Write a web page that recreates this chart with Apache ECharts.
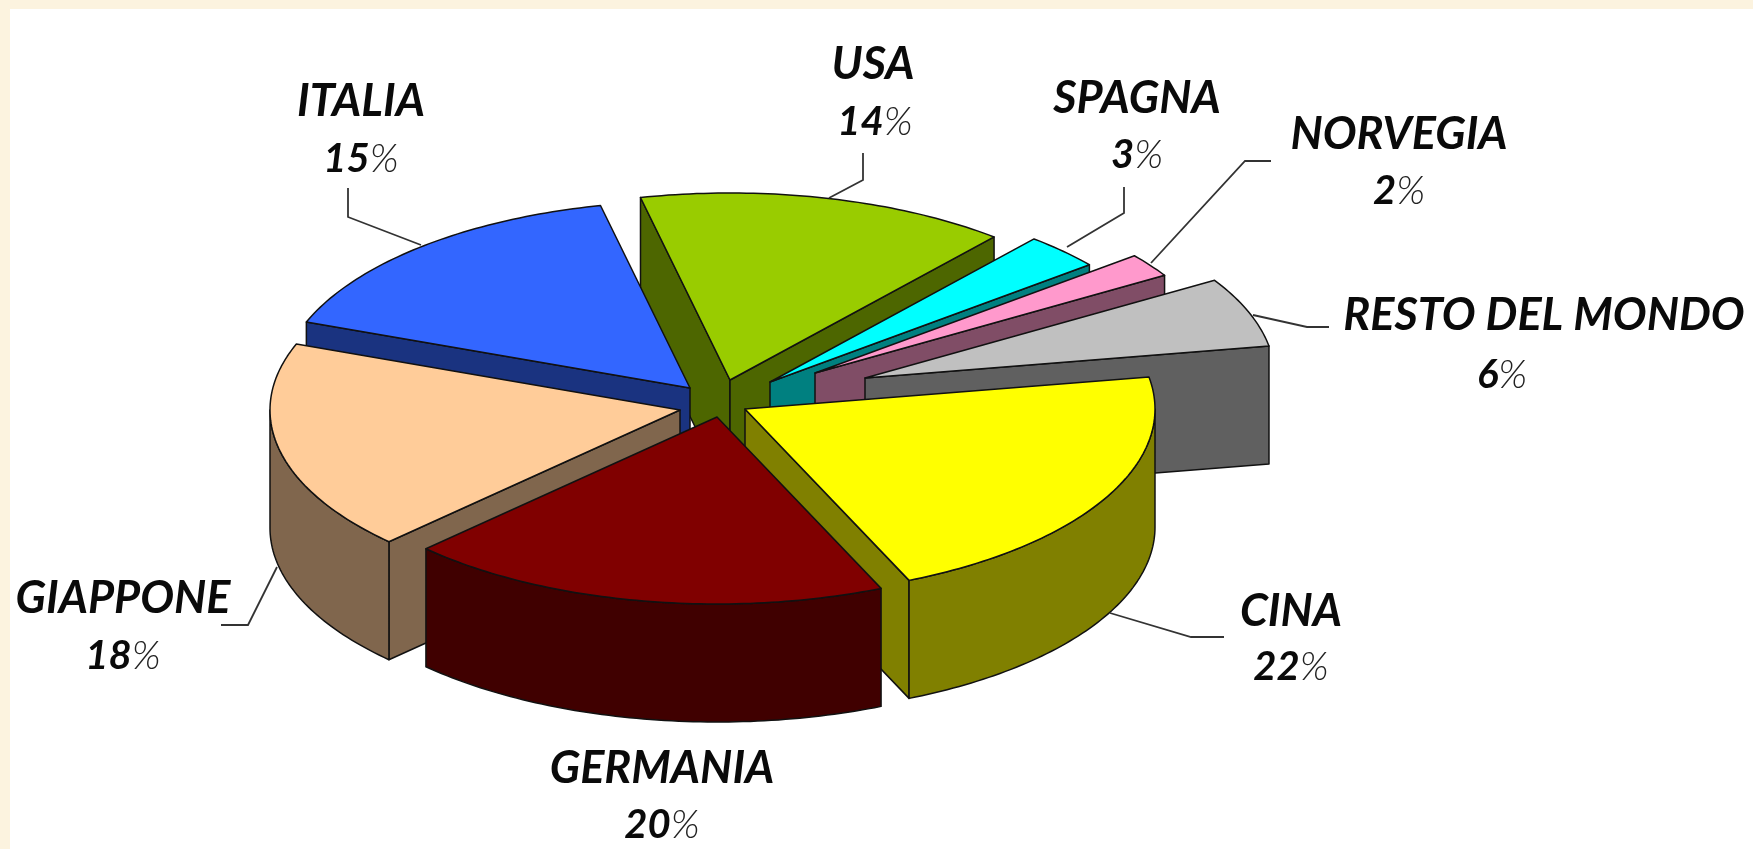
<!DOCTYPE html>
<html>
<head>
<meta charset="utf-8">
<title>Torta</title>
<script src="https://cdn.jsdelivr.net/npm/echarts@6/dist/echarts.min.js"></script>
<style>
html, body { margin: 0; padding: 0; background: #fcf3df; }
#main { width: 1753px; height: 849px; }
</style>
</head>
<body>
<div id="main"></div>
<script>
// dati
var paesi = ['USA', 'SPAGNA', 'NORVEGIA', 'RESTO DEL MONDO', 'CINA', 'GERMANIA', 'GIAPPONE', 'ITALIA'];
var quote = [14, 3, 2, 6, 22, 20, 18, 15];

// stile delle fette
var coloriTop = ['#99cc00', '#00ffff', '#ff99cc', '#c0c0c0', '#ffff00', '#800000', '#ffcc99', '#3366ff'];
var coloriLato = ['#4d6600', '#008080', '#804d66', '#606060', '#808000', '#400000', '#80664d', '#1a3380'];

// spostamento di ogni fetta dal centro (pixel)
var esplosione = [[25, -15], [65, -13], [110, -22], [160, -17], [40, 14], [12, 22], [-25, 15], [-15, -7]];
// ordine di disegno, da dietro verso davanti
var ordine = [0, 1, 2, 3, 4, 7, 6, 5];

// posizione delle etichette: [x, y nome, y percentuale]
var posEtichette = [[873, 64, 122], [1137, 98, 155], [1399, 134, 191], [1544, 315, 375],
    [1291, 611, 667], [662, 768, 825], [123, 598, 656], [361, 101, 159]];
var posRichiamo = [
    [[863, 153], [863, 180], [829, 198]],
    [[1124, 187], [1124, 213], [1067, 247]],
    [[1271, 161], [1245, 161], [1151, 263]],
    [[1329, 327], [1307, 327], [1253, 315]],
    [[1224, 637], [1191, 637], [1110, 613]],
    null,
    [[221, 625], [248, 625], [277, 567]],
    [[348, 188], [348, 217], [421, 245]]
];
var xPercento = [875, 1137, 1399, 1502, 1291, 662, 123, 361];

var centroX = 705, centroY = 395, raggioX = 410, raggioY = 187, spessore = 118;
var angoloIniziale = -103;

// la vista 3D del grafico originale deforma un po' gli angoli
function prospettiva(gradi) {
    return gradi + 3.2 * Math.cos((gradi + 20) * Math.PI / 180);
}

var totale = quote.reduce(function (a, b) { return a + b; }, 0);
var angoliPiatti = [angoloIniziale];
quote.forEach(function (q, i) {
    angoliPiatti.push(angoliPiatti[i] + q / totale * 360);
});
var angoli = angoliPiatti.map(prospettiva);

function puntoBordo(i, gradi, dy) {
    var r = gradi * Math.PI / 180;
    return [
        centroX + esplosione[i][0] + raggioX * Math.cos(r),
        centroY + esplosione[i][1] + raggioY * Math.sin(r) + dy
    ];
}

function arco(i, da, a, dy) {
    var pts = [];
    var n = Math.max(2, Math.ceil(Math.abs(a - da)));
    for (var k = 0; k <= n; k++) {
        pts.push(puntoBordo(i, da + (a - da) * k / n, dy));
    }
    return pts;
}

function faccia(pts, colore) {
    return {
        type: 'polygon',
        shape: { points: pts },
        style: { fill: colore, stroke: '#111111', lineWidth: 1.5, lineJoin: 'round' }
    };
}

function renderFetta(params, api) {
    var i = api.value(0);
    var inizio = angoli[i];
    var fine = angoli[i + 1];
    var ax = centroX + esplosione[i][0], ay = centroY + esplosione[i][1];
    var children = [];

    // facce radiali, solo quelle rivolte verso chi guarda
    if (Math.cos(inizio * Math.PI / 180) < 0) {
        var p1 = puntoBordo(i, inizio, 0), p2 = puntoBordo(i, inizio, spessore);
        children.push(faccia([[ax, ay], p1, p2, [ax, ay + spessore]], coloriLato[i]));
    }
    if (Math.cos(fine * Math.PI / 180) > 0) {
        var p3 = puntoBordo(i, fine, 0), p4 = puntoBordo(i, fine, spessore);
        children.push(faccia([[ax, ay], p3, p4, [ax, ay + spessore]], coloriLato[i]));
    }

    // parete esterna: solo la parte davanti (0-180 gradi)
    var da = Math.max(inizio, 0), a = Math.min(fine, 180);
    if (a > da) {
        var sopra = arco(i, da, a, 0);
        var sotto = arco(i, a, da, spessore);
        children.push(faccia(sopra.concat(sotto), coloriLato[i]));
    }

    // faccia superiore
    children.push(faccia([[ax, ay]].concat(arco(i, inizio, fine, 0)), coloriTop[i]));

    return { type: 'group', children: children };
}

function renderEtichetta(params, api) {
    var i = api.value(0);
    var pos = posEtichette[i];
    var children = [];
    if (posRichiamo[i]) {
        children.push({
            type: 'polyline',
            shape: { points: posRichiamo[i] },
            style: { fill: 'none', stroke: '#333333', lineWidth: 1.8 }
        });
    }
    children.push({
        type: 'text',
        style: {
            text: paesi[i], x: pos[0], y: pos[1], align: 'center', verticalAlign: 'middle',
            fill: '#0a0a0a', font: 'italic bold 45px Lato'
        }
    });
    children.push({
        type: 'text',
        style: {
            text: '{n|' + api.value(1) + '}{p|%}', x: xPercento[i], y: pos[2], align: 'center', verticalAlign: 'middle',
            fill: '#0a0a0a',
            rich: {
                n: { font: 'italic bold 40px Lato', fill: '#0a0a0a' },
                p: { font: 'italic 300 40px Lato', fill: '#222222' }
            }
        }
    });
    return { type: 'group', children: children };
}

var myChart = echarts.init(document.getElementById('main'));
var option = {
    backgroundColor: '#fcf3df',
    animation: false,
    graphic: [{
        type: 'rect',
        z: -1,
        shape: { x: 10, y: 9, width: 1743, height: 840 },
        style: { fill: '#ffffff' }
    }],
    series: [
        {
            type: 'custom',
            coordinateSystem: 'none',
            silent: true,
            renderItem: renderFetta,
            data: ordine.map(function (i) { return [i, quote[i]]; })
        },
        {
            type: 'custom',
            coordinateSystem: 'none',
            silent: true,
            renderItem: renderEtichetta,
            data: quote.map(function (q, i) { return [i, q]; })
        }
    ]
};
myChart.setOption(option);
</script>
</body>
</html>
